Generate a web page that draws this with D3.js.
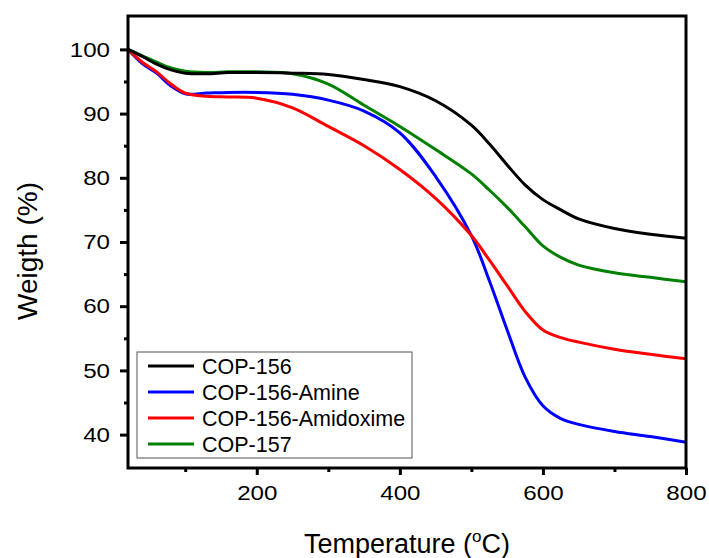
<!DOCTYPE html>
<html>
<head>
<meta charset="utf-8">
<script src="https://cdn.jsdelivr.net/npm/d3@7"></script>
<style>
  body { margin: 0; background: #fff; }
  svg { font-family: Arial, "Liberation Sans", sans-serif; }
</style>
</head>
<body>
<script>
// TGA curves (weight % vs temperature in °C)
const temps = [20, 40, 60, 80, 100, 130, 160, 200, 250, 300, 350, 400, 450, 500, 525, 550, 575, 600, 625, 650, 700, 750, 800];
const cop156 = [100, 98.9, 97.7, 96.8, 96.3, 96.2, 96.4, 96.4, 96.3, 96.1, 95.3, 94.2, 92.0, 88.2, 85.3, 82.0, 78.9, 76.6, 75.0, 73.6, 72.1, 71.2, 70.6];
const cop156Amine = [100, 97.8, 96.3, 94.3, 93.1, 93.2, 93.3, 93.3, 93.0, 92.1, 90.4, 87.0, 80.2, 71.0, 64.0, 56.3, 49.0, 44.5, 42.5, 41.6, 40.5, 39.7, 38.8];
const cop156Amidoxime = [100, 98.0, 96.5, 94.6, 93.2, 92.7, 92.6, 92.4, 90.9, 88.0, 85.0, 81.3, 76.8, 71.0, 67.2, 63.2, 59.2, 56.3, 55.1, 54.4, 53.3, 52.5, 51.8];
const cop157 = [100, 99.0, 98.0, 97.1, 96.6, 96.4, 96.5, 96.5, 96.2, 94.6, 91.3, 88.0, 84.4, 80.6, 78.1, 75.4, 72.4, 69.4, 67.6, 66.4, 65.2, 64.5, 63.8];

const seriesNames = ['COP-156', 'COP-156-Amine', 'COP-156-Amidoxime', 'COP-157'];
const seriesValues = [cop156, cop156Amine, cop156Amidoxime, cop157];
const seriesColors = ['#000000', '#0000ff', '#ff0000', '#008000'];

const xMajor = [200, 400, 600, 800];
const xMinor = [100, 300, 500, 700];
const yMajor = [40, 50, 60, 70, 80, 90, 100];
const yMinor = [45, 55, 65, 75, 85, 95];

const width = 709, height = 558;
const margin = { top: 16, right: 23, bottom: 90, left: 128 };

const svg = d3.select('body').append('svg')
  .attr('width', width)
  .attr('height', height);

const x = d3.scaleLinear().domain([20, 800]).range([margin.left, width - margin.right]);
const y = d3.scaleLinear().domain([34.8, 105.2]).range([height - margin.bottom, margin.top]);

// curves
const line = d3.line()
  .x((d, i) => x(temps[i]))
  .y(d => y(d))
  .curve(d3.curveCatmullRom.alpha(0.5));

// draw green first so black sits on top where they overlap
const order = [3, 1, 2, 0];
svg.append('g')
  .selectAll('path')
  .data(order)
  .enter().append('path')
  .attr('fill', 'none')
  .attr('stroke', i => seriesColors[i])
  .attr('stroke-width', 3)
  .attr('d', i => line(seriesValues[i]));

// axes
svg.append('g')
  .attr('class', 'xaxis')
  .attr('transform', `translate(0,${height - margin.bottom})`)
  .call(d3.axisBottom(x).tickValues(xMajor).tickSize(7).tickPadding(10).tickSizeOuter(0));
svg.append('g')
  .attr('transform', `translate(0,${height - margin.bottom})`)
  .call(d3.axisBottom(x).tickValues(xMinor).tickSize(4).tickFormat('').tickSizeOuter(0));

svg.append('g')
  .attr('class', 'yaxis')
  .attr('transform', `translate(${margin.left},0)`)
  .call(d3.axisLeft(y).tickValues(yMajor).tickSize(8).tickPadding(10).tickSizeOuter(0));
svg.append('g')
  .attr('transform', `translate(${margin.left},0)`)
  .call(d3.axisLeft(y).tickValues(yMinor).tickSize(4).tickFormat('').tickSizeOuter(0));

svg.selectAll('.domain').attr('stroke', 'none');
svg.selectAll('.tick line').attr('stroke', '#000').attr('stroke-width', 3);
svg.selectAll('.tick text')
  .attr('fill', '#000')
  .style('font-size', '21px');
// the original's tick labels are a bit wider than plain Arial
svg.selectAll('.xaxis .tick text').attr('transform', 'scale(1.15,1)');
svg.selectAll('.yaxis .tick text')
  .attr('x', 0)
  .attr('transform', 'translate(-18,0) scale(1.15,1)');

// frame
svg.append('rect')
  .attr('x', margin.left)
  .attr('y', margin.top)
  .attr('width', width - margin.left - margin.right)
  .attr('height', height - margin.top - margin.bottom)
  .attr('fill', 'none')
  .attr('stroke', '#000')
  .attr('stroke-width', 3);

// axis titles
const xt = svg.append('text')
  .attr('x', (margin.left + width - margin.right) / 2)
  .attr('y', 553)
  .attr('text-anchor', 'middle')
  .style('font-size', '27px');
xt.append('tspan').text('Temperature (');
xt.append('tspan').attr('dy', -11).style('font-size', '17px').text('o');
xt.append('tspan').attr('dy', 11).text('C)');

svg.append('text')
  .attr('transform', 'translate(37,251) rotate(-90)')
  .attr('text-anchor', 'middle')
  .style('font-size', '28px')
  .text('Weigth (%)');

// legend
const legend = svg.append('g');
legend.append('rect')
  .attr('x', 137).attr('y', 352)
  .attr('width', 275).attr('height', 106)
  .attr('fill', '#fff')
  .attr('stroke', '#555')
  .attr('stroke-width', 1);

const rows = legend.selectAll('g.row')
  .data(seriesNames)
  .enter().append('g')
  .attr('class', 'row')
  .attr('transform', (d, i) => `translate(148,${366 + i * 26})`);

rows.append('line')
  .attr('x1', 0).attr('x2', 46)
  .attr('stroke', (d, i) => seriesColors[i])
  .attr('stroke-width', 3);

rows.append('text')
  .attr('x', 54)
  .attr('dy', '0.35em')
  .style('font-size', '21.5px')
  .text(d => d);
</script>
</body>
</html>
